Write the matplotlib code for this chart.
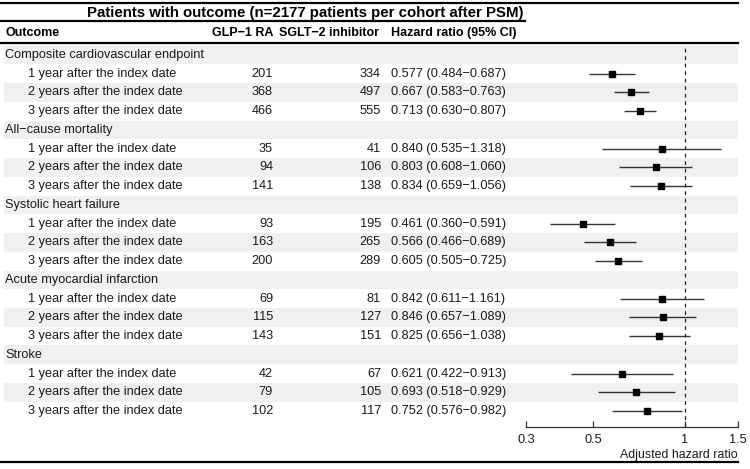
import numpy as np
import matplotlib
matplotlib.use("Agg")
import matplotlib.pyplot as plt
from matplotlib.patches import Rectangle

plt.rcParams['font.family'] = ['Liberation Sans', 'DejaVu Sans']

# ---------------- data ----------------
groups = ["Composite cardiovascular endpoint", "All\u2212cause mortality",
          "Systolic heart failure", "Acute myocardial infarction", "Stroke"]
periods = ["1 year after the index date", "2 years after the index date",
           "3 years after the index date"]
glp1 = [[201, 368, 466], [35, 94, 141], [93, 163, 200], [69, 115, 143], [42, 79, 102]]
sglt2 = [[334, 497, 555], [41, 106, 138], [195, 265, 289], [81, 127, 151], [67, 105, 117]]
hr = [[0.577, 0.667, 0.713], [0.840, 0.803, 0.834], [0.461, 0.566, 0.605],
      [0.842, 0.846, 0.825], [0.621, 0.693, 0.752]]
lo = [[0.484, 0.583, 0.630], [0.535, 0.608, 0.659], [0.360, 0.466, 0.505],
      [0.611, 0.657, 0.656], [0.422, 0.518, 0.576]]
hi = [[0.687, 0.763, 0.807], [1.318, 1.060, 1.056], [0.591, 0.689, 0.725],
      [1.161, 1.089, 1.038], [0.913, 0.929, 0.982]]
xticks = [0.3, 0.5, 1, 1.5]
title = "Patients with outcome (n=2177 patients per cohort after PSM)"
headers = ["Outcome", "GLP\u22121 RA", "SGLT\u22122 inhibitor", "Hazard ratio (95% CI)"]
xlabel = "Adjusted hazard ratio"

# ---------------- layout (pixels) ----------------
W, H = 750, 469
row0 = 55.0
rowh = 18.74
def ry(i):
    return row0 + i * rowh

fig = plt.figure(figsize=(W / 100, H / 100), dpi=100)
tab = fig.add_axes([0, 0, 1, 1])
tab.set_xlim(0, W)
tab.set_ylim(H, 0)
tab.axis('off')

fs = 9.2
hfs = 9.0
txtc = '#1a1a1a'
rows = []
for g in range(len(groups)):
    rows.append(("group", g, None))
    for p in range(3):
        rows.append(("sub", g, p))

for i, (kind, g, p) in enumerate(rows):
    y = ry(i)
    if i % 2 == 0:
        tab.add_patch(Rectangle((4, y - rowh / 2), 734, rowh, color='#eff1f1', lw=0, zorder=0))
    if kind == "group":
        tab.text(5, y, groups[g], ha='left', va='center', fontsize=fs, color=txtc)
    else:
        tab.text(28, y, periods[p], ha='left', va='center', fontsize=fs, color=txtc)
        tab.text(273, y, str(glp1[g][p]), ha='right', va='center', fontsize=fs, color=txtc)
        tab.text(381, y, str(sglt2[g][p]), ha='right', va='center', fontsize=fs, color=txtc)
        s = f"{hr[g][p]:.3f} ({lo[g][p]:.3f}\u2212{hi[g][p]:.3f})"
        tab.text(391, y, s, ha='left', va='center', fontsize=fs, color=txtc)

# title and headers
tab.text(305, 13.5, title, ha='center', va='center', fontsize=10.8, fontweight='bold', color='black')
tab.text(5, 33, headers[0], ha='left', va='center', fontsize=hfs, fontweight='bold', color='black')
tab.text(273, 33, headers[1], ha='right', va='center', fontsize=hfs, fontweight='bold', color='black')
tab.text(379, 33, headers[2], ha='right', va='center', fontsize=hfs, fontweight='bold', color='black')
tab.text(391, 33, headers[3], ha='left', va='center', fontsize=hfs, fontweight='bold', color='black')

# rules
tab.plot([0, 738], [3.5, 3.5], color='black', lw=1.6)
tab.plot([0, 525], [21.5, 21.5], color='black', lw=1.6)
tab.plot([0, 738], [43.5, 43.5], color='black', lw=1.6)
tab.plot([0, 738], [462.5, 462.5], color='black', lw=1.6)

# ---------------- forest axes ----------------
x0, x1 = 526, 738
ytop, ybot = 45, 427
ax = fig.add_axes([x0 / W, 1 - ybot / H, (x1 - x0) / W, (ybot - ytop) / H])
ax.patch.set_alpha(0)
ax.set_xscale('log')
ax.set_xlim(xticks[0], xticks[-1])
ax.set_ylim((ybot - row0) / rowh, (ytop - row0) / rowh)
for s in ['top', 'right', 'left']:
    ax.spines[s].set_visible(False)
ax.spines['bottom'].set_linewidth(0.9)
ax.spines['bottom'].set_color('#333333')
ax.set_yticks([])
ax.set_xticks(xticks)
ax.set_xticklabels([str(t) for t in xticks])
ax.xaxis.set_minor_locator(matplotlib.ticker.NullLocator())
ax.tick_params(axis='x', direction='in', length=4.5, width=0.9, color='#333333',
               labelsize=fs, pad=5, labelcolor=txtc)
ax.set_xlabel(xlabel, loc='right', fontsize=8.9, color=txtc, labelpad=2)

ax.axvline(1, color='#222222', lw=0.9, ls=(0, (3, 3)), zorder=1)

for i, (kind, g, p) in enumerate(rows):
    if kind != "sub":
        continue
    ax.plot([lo[g][p], hi[g][p]], [i, i], color='#333333', lw=1.0, zorder=2, solid_capstyle='butt')
    ax.plot([hr[g][p]], [i], marker='s', color='black', ms=4.3, zorder=3, lw=0)

fig.savefig("out.png", dpi=100)
